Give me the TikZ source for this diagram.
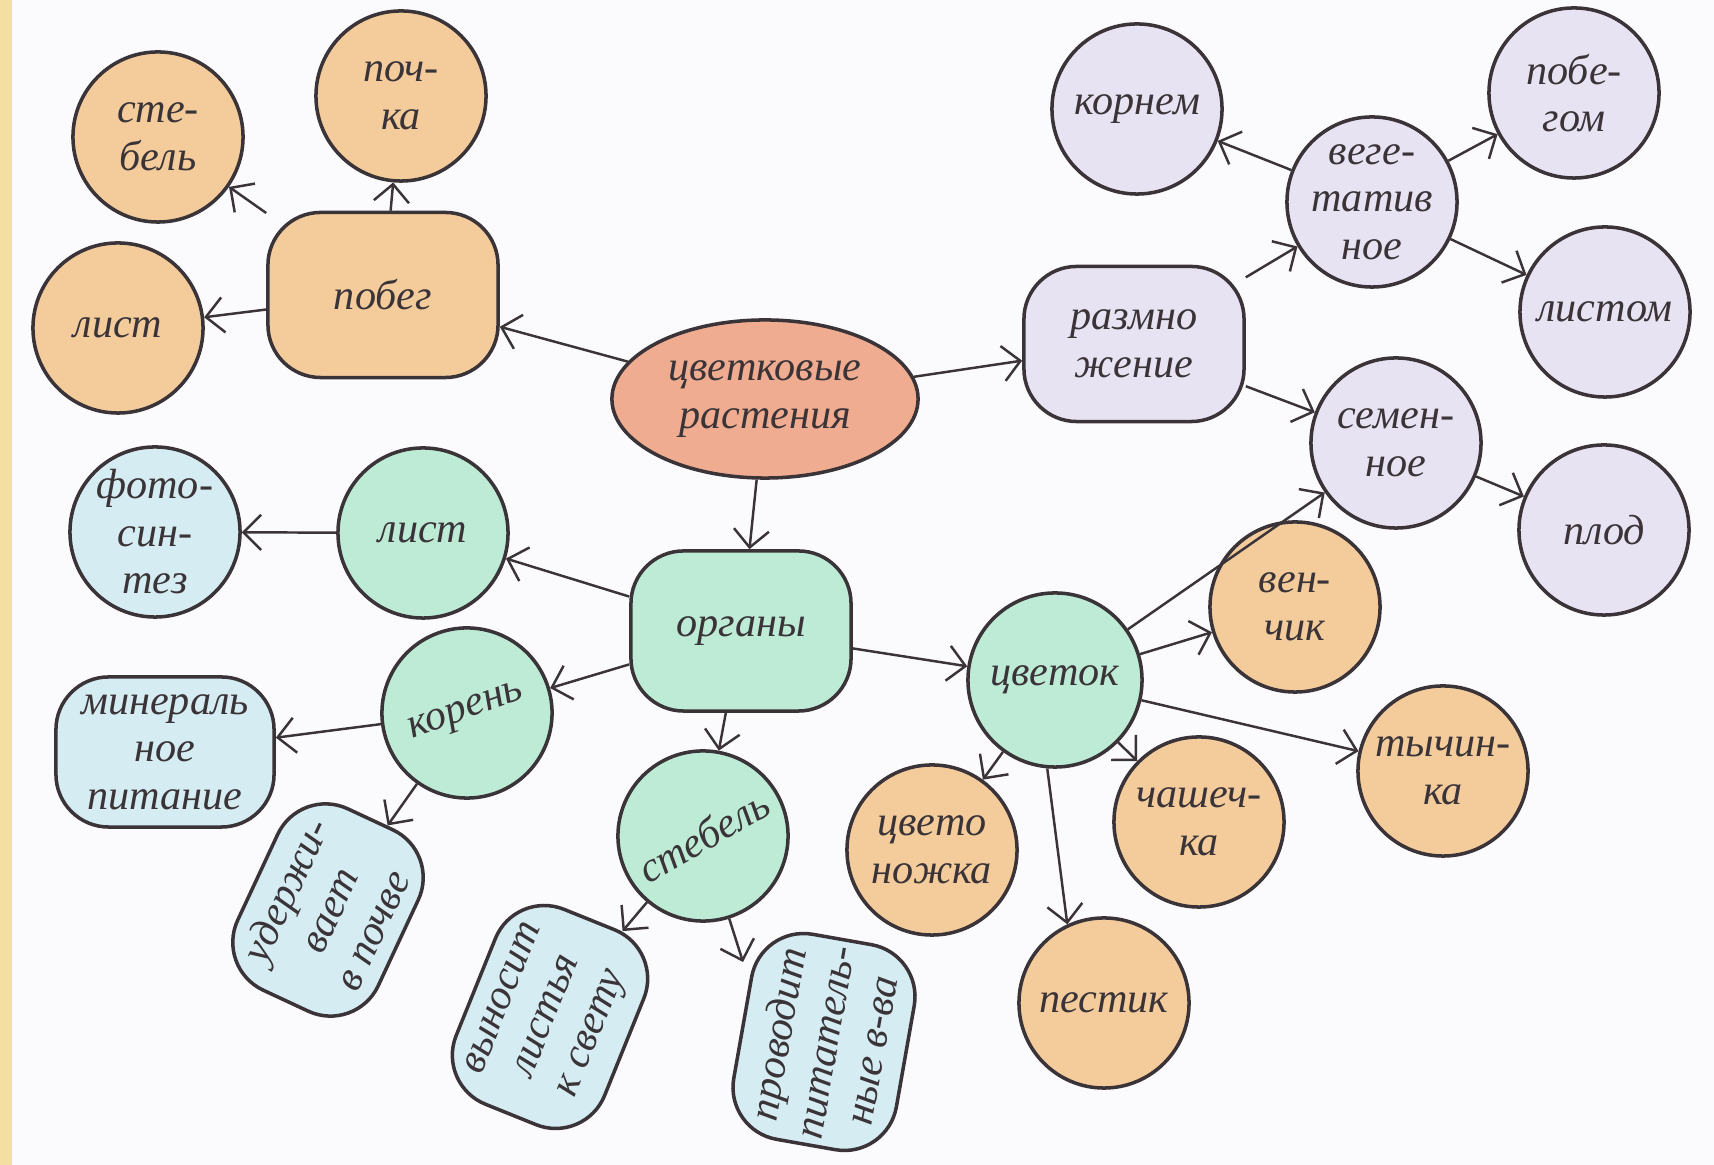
\documentclass[tikz,border=0pt]{standalone}
\usepackage{fontspec}
\setmainfont{Liberation Serif}
\usetikzlibrary{arrows.meta, shapes.geometric}
\definecolor{cRoot}{HTML}{F0AC90}
\definecolor{cPeach}{HTML}{F4CC9C}
\definecolor{cLilac}{HTML}{E8E3F3}
\definecolor{cMint}{HTML}{BDEBD6}
\definecolor{cSky}{HTML}{D5ECF2}
\definecolor{cPaper}{HTML}{FBFBFD}
\definecolor{cStripe}{HTML}{F3DFA2}
\definecolor{cInk}{HTML}{3A3438}

\begin{document}
\begin{tikzpicture}[
  x=0.01cm, y=-0.01cm,
  hand/.style={font=\fontsize{12}{13.5}\selectfont\itshape, text=cInk, align=center},
  bubble/.style={
    hand, circle, draw=cInk, line width=1pt, fill=#1,
    minimum size=1.7cm, inner sep=0pt
  },
  pillow/.style={
    hand, rectangle, draw=cInk, line width=1pt, fill=#1,
    rounded corners=15pt, inner sep=2pt
  },
  link/.style={
    draw=cInk, line width=0.7pt,
    -{Straight Barb[length=5pt, width=10pt, line width=0.7pt]}
  },
]

% paper
\fill[cPaper] (0,0) rectangle (1714,1165);
\fill[cStripe] (0,0) rectangle (12,1165);
\useasboundingbox (0,0) rectangle (1714,1165);

% centre
\node[hand, ellipse, draw=cInk, line width=1pt, fill=cRoot,
      minimum width=3.06cm, minimum height=1.58cm] (plants) at (765,399)
  {цветковые\\растения};

% ПОБЕГ
\node[pillow=cPeach, minimum width=2.3cm, minimum height=1.65cm] (shoot) at (383,295) {побег};
\node[bubble=cPeach] (stemA) at (158,137) {сте-\\бель};
\node[bubble=cPeach] (bud) at (401,96) {поч-\\ка};
\node[bubble=cPeach] (leafA) at (118,328) {лист};

% РАЗМНОЖЕНИЕ
\node[pillow=cLilac, minimum width=2.2cm, minimum height=1.55cm] (repro) at (1134,344) {размно\\жение};
\node[bubble=cLilac] (veg) at (1372,202) {веге-\\татив\\ное};
\node[bubble=cLilac] (byroot) at (1137,109) {корнем};
\node[bubble=cLilac] (byshoot) at (1574,93) {побе-\\гом};
\node[bubble=cLilac] (byleaf) at (1605,312) {листом};
\node[bubble=cLilac] (seed) at (1396,443) {семен-\\ное};
\node[bubble=cLilac] (fruit) at (1604,530) {плод};

% ОРГАНЫ
\node[pillow=cMint, minimum width=2.2cm, minimum height=1.6cm] (organs) at (741,631) {органы};
\node[bubble=cMint] (leafB) at (423,533) {лист};
\node[bubble=cSky] (photo) at (155,532) {фото-\\син-\\тез};
\node[bubble=cMint, rotate=20] (root) at (467,713) {корень};
\node[pillow=cSky, minimum width=2.18cm, minimum height=1.5cm] (mineral) at (165,752)
  {минераль\\ное\\питание};
\node[pillow=cSky, rotate=65, minimum width=2cm, minimum height=1.55cm] (hold) at (328,910)
  {удержи-\\вает\\в почве};
\node[bubble=cMint, rotate=30] (stemB) at (703,836) {стебель};
\node[pillow=cSky, rotate=68, minimum width=2.1cm, minimum height=1.6cm] (lift) at (550,1017)
  {выносит\\листья\\к свету};
\node[pillow=cSky, rotate=80, minimum width=2.05cm, minimum height=1.65cm] (carry) at (824,1042)
  {проводит\\питатель-\\ные в-ва};
\coordinate (carryIn) at (743,962);

% ЦВЕТОК
\node[bubble=cMint, minimum size=1.74cm] (flower) at (1055,680) {цветок};
\node[bubble=cPeach] (corolla) at (1295,607) {вен-\\чик};
\node[bubble=cPeach] (stamen) at (1443,771) {тычин-\\ка};
\node[bubble=cPeach] (calyx) at (1199,822) {чашеч-\\ка};
\node[bubble=cPeach] (pistil) at (1104,1003) {пестик};
\node[bubble=cPeach] (stalk) at (932,850) {цвето\\ножка};

% arrows
\draw[link] (plants) -- (shoot);
\draw[link] (plants) -- (repro);
\draw[link] (plants) -- (organs);
\foreach \t in {stemA, bud, leafA} \draw[link] (shoot) -- (\t);
\foreach \t in {veg, seed} \draw[link] (repro) -- (\t);
\foreach \t in {byroot, byshoot, byleaf} \draw[link] (veg) -- (\t);
\draw[link] (seed) -- (fruit);
\foreach \t in {leafB, root, stemB, flower} \draw[link] (organs) -- (\t);
\draw[link] (leafB) -- (photo);
\draw[link] (root) -- (mineral);
\draw[link] (root) -- (hold);
\draw[link] (stemB) -- (lift);
\draw[link] (stemB) -- (carryIn);
\draw[link] (flower) -- (seed);
\foreach \t in {corolla, stamen, calyx, stalk} \draw[link] (flower) -- (\t);
\draw[link] (flower.-95) -- (pistil.115);

\end{tikzpicture}
\end{document}
